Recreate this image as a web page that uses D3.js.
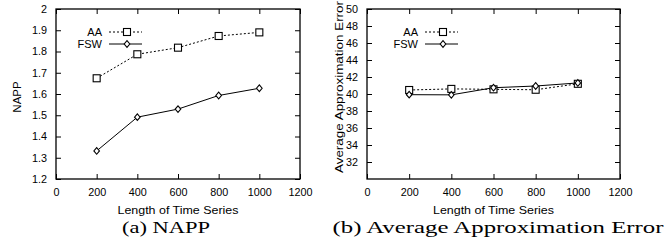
<!DOCTYPE html>
<html>
<head>
<meta charset="utf-8">
<script src="https://cdn.jsdelivr.net/npm/d3@7"></script>
<style>
  body { margin: 0; background: #fff; }
  svg { display: block; }
  text { font-family: "Liberation Sans", Arial, sans-serif; fill: #000; }
  .caption { font-family: "Liberation Serif", "Times New Roman", serif; }
</style>
</head>
<body>
<script>
// values
var lengths = [200, 400, 600, 800, 1000];
var xTicks = [0, 200, 400, 600, 800, 1000, 1200];

var nappAA  = [1.674, 1.787, 1.818, 1.873, 1.890];
var nappFSW = [1.332, 1.491, 1.529, 1.593, 1.627];
var nappTicks = [1.2, 1.3, 1.4, 1.5, 1.6, 1.7, 1.8, 1.9, 2.0];

var errAA  = [40.47, 40.6, 40.55, 40.5, 41.2];
var errFSW = [39.92, 39.9, 40.74, 40.94, 41.3];
var errTicks = [32, 34, 36, 38, 40, 42, 44, 46, 48, 50];

var seriesNames = ["AA", "FSW"];

var width = 668, height = 244;
var svg = d3.select("body").append("svg")
  .attr("width", width)
  .attr("height", height);

function drawPanel(cfg) {
  var x = d3.scaleLinear().domain([0, 1200]).range([cfg.left, cfg.right]);
  var y = d3.scaleLinear().domain(cfg.yDomain).range([cfg.bottom, cfg.top]);
  var g = svg.append("g");

  // inward ticks on all four sides
  g.append("g").attr("transform", "translate(0," + cfg.bottom + ")")
    .call(d3.axisBottom(x).tickValues(xTicks).tickSize(-5).tickSizeOuter(0).tickPadding(9).tickFormat(d3.format("d")));
  g.append("g").attr("transform", "translate(0," + cfg.top + ")")
    .call(d3.axisTop(x).tickValues(xTicks).tickSize(-5).tickSizeOuter(0).tickFormat(""));
  g.append("g").attr("transform", "translate(" + cfg.left + ",0)")
    .call(d3.axisLeft(y).tickValues(cfg.yTicks).tickSize(-5).tickSizeOuter(0).tickPadding(9).tickFormat(cfg.fmt));
  g.append("g").attr("transform", "translate(" + cfg.right + ",0)")
    .call(d3.axisRight(y).tickValues(cfg.yTicks).tickSize(-5).tickSizeOuter(0).tickFormat(""));

  g.selectAll(".domain").remove();
  g.selectAll(".tick line").attr("stroke", "#000").attr("stroke-width", 1);
  g.selectAll(".tick text").attr("font-size", 10.8).attr("font-family", "Liberation Sans, Arial, sans-serif").attr("fill", "#000");

  g.append("rect")
    .attr("x", cfg.left).attr("y", cfg.top)
    .attr("width", cfg.right - cfg.left).attr("height", cfg.bottom - cfg.top)
    .attr("fill", "none").attr("stroke", "#000").attr("stroke-width", 1.3);

  var line = d3.line().x(function(d, i) { return x(lengths[i]); }).y(function(d) { return y(d); });

  // AA: dotted + squares
  g.append("path").datum(cfg.aa).attr("d", line)
    .attr("fill", "none").attr("stroke", "#000").attr("stroke-width", 1).attr("stroke-dasharray", "2,2");
  // FSW: solid + diamonds
  g.append("path").datum(cfg.fsw).attr("d", line)
    .attr("fill", "none").attr("stroke", "#000").attr("stroke-width", 1);

  function square(sel, cx, cy) {
    sel.append("rect").attr("x", cx - 3.5).attr("y", cy - 3.5).attr("width", 7).attr("height", 7)
      .attr("fill", "#fff").attr("stroke", "#000").attr("stroke-width", 1.1);
  }
  function diamond(sel, cx, cy) {
    sel.append("path").attr("d", "M" + cx + "," + (cy - 3.3) + "L" + (cx + 2.8) + "," + cy + "L" + cx + "," + (cy + 3.3) + "L" + (cx - 2.8) + "," + cy + "Z")
      .attr("fill", "#fff").attr("stroke", "#000").attr("stroke-width", 1.1);
  }
  cfg.aa.forEach(function(v, i) { square(g, x(lengths[i]), y(v)); });
  cfg.fsw.forEach(function(v, i) { diamond(g, x(lengths[i]), y(v)); });

  // legend
  var lg = [32, 44];
  seriesNames.forEach(function(name, i) {
    g.append("text").attr("x", cfg.legX).attr("y", lg[i] + 4)
      .attr("text-anchor", "end").attr("font-size", 11).text(name);
    var l = g.append("line").attr("x1", cfg.legX + 7).attr("x2", cfg.legX + 40)
      .attr("y1", lg[i]).attr("y2", lg[i]).attr("stroke", "#000").attr("stroke-width", 1);
    if (i === 0) l.attr("stroke-dasharray", "2,2");
    if (i === 0) square(g, cfg.legX + 25, lg[i]); else diamond(g, cfg.legX + 25, lg[i]);
  });

  // axis titles
  g.append("text").attr("x", (cfg.left + cfg.right) / 2).attr("y", 214)
    .attr("text-anchor", "middle").attr("font-size", 11)
    .attr("textLength", 121).attr("lengthAdjust", "spacingAndGlyphs")
    .text("Length of Time Series");
  var yl = g.append("text")
    .attr("transform", "translate(" + cfg.yLabelX + "," + cfg.yLabelY + ") rotate(-90)")
    .attr("text-anchor", "middle").attr("font-size", 11.5)
    .text(cfg.yLabel);
  if (cfg.yLabelLen) yl.attr("textLength", cfg.yLabelLen).attr("lengthAdjust", "spacingAndGlyphs");

  // caption
  g.append("text").attr("class", "caption")
    .attr("x", cfg.capX).attr("y", 233)
    .attr("text-anchor", "middle").attr("font-size", 17.5)
    .attr("textLength", cfg.capLen).attr("lengthAdjust", "spacingAndGlyphs")
    .text(cfg.caption);
}

drawPanel({
  left: 56, right: 300, top: 9, bottom: 179,
  yDomain: [1.2, 2.0], yTicks: nappTicks,
  fmt: function(d) { return d === 2 ? "2" : d3.format(".1f")(d); },
  aa: nappAA, fsw: nappFSW,
  legX: 102, yLabel: "NAPP", yLabelX: 21, yLabelY: 97,
  caption: "(a) NAPP", capX: 166, capLen: 88
});

drawPanel({
  left: 367, right: 620, top: 9, bottom: 179,
  yDomain: [30, 50], yTicks: errTicks,
  fmt: d3.format("d"),
  aa: errAA, fsw: errFSW,
  legX: 418, yLabel: "Average Approximation Error", yLabelX: 343, yLabelY: 87, yLabelLen: 172,
  caption: "(b) Average Approximation Error", capX: 498, capLen: 331
});
</script>
</body>
</html>
